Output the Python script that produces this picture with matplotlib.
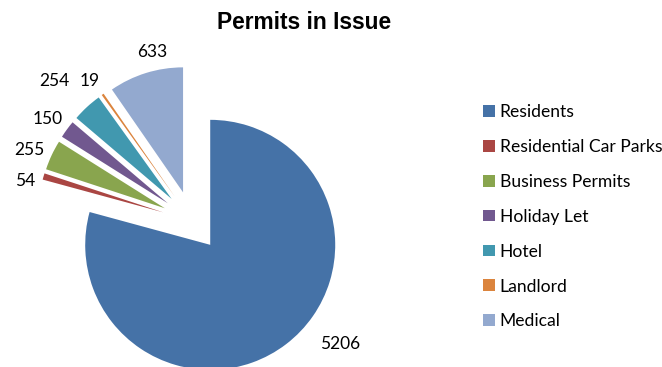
import matplotlib.pyplot as plt
from matplotlib.patches import Patch

categories = ["Residents", "Residential Car Parks", "Business Permits", "Holiday Let",
              "Hotel", "Landlord", "Medical"]
permits = [5206, 54, 255, 150, 254, 19, 633]
colors = ["#4572A7", "#AA4643", "#89A54E", "#71588F", "#4198AF", "#DB843D", "#93A9CF"]

# where each value label sits (data units, pie radius = 1)
label_pos = [(1.184, -0.984), (-1.336, 0.32), (-1.304, 0.568), (-1.152, 0.82),
             (-1.104, 1.116), (-0.82, 1.116), (-0.32, 1.352)]

plt.rcParams['font.family'] = ['Lato', 'DejaVu Sans']

fig = plt.figure(figsize=(6.62, 3.67), dpi=100)
ax = fig.add_axes([0, 0, 400 / 662, 1])

wedges, texts = ax.pie(permits, labels=[str(v) for v in permits], colors=colors,
                       startangle=90, counterclock=False, explode=[0.24] * len(permits),
                       textprops={'fontsize': 12.5})
for t, (x, y) in zip(texts, label_pos):
    t.set_position((x, y))
    t.set_ha('center')
    t.set_va('center')
ax.set_aspect('auto')
ax.set_xlim(-1.536, 1.664)
ax.set_ylim(-1.168, 1.768)
ax.axis('off')

fig.text(304 / 662, 1 - 29 / 367, "Permits in Issue", ha='center', va='baseline',
         fontsize=16.4, fontweight='bold', family=['Liberation Sans', 'DejaVu Sans'])

handles = [Patch(facecolor=c, edgecolor='none') for c in colors]
fig.legend(handles, categories, loc='upper left', bbox_to_anchor=(483 / 662, 1 - 104 / 367),
           frameon=False, fontsize=12.6, handlelength=0.66, handleheight=0.66,
           handletextpad=0.3, labelspacing=1.08, borderaxespad=0, borderpad=0)

fig.savefig("out.png", dpi=100)
